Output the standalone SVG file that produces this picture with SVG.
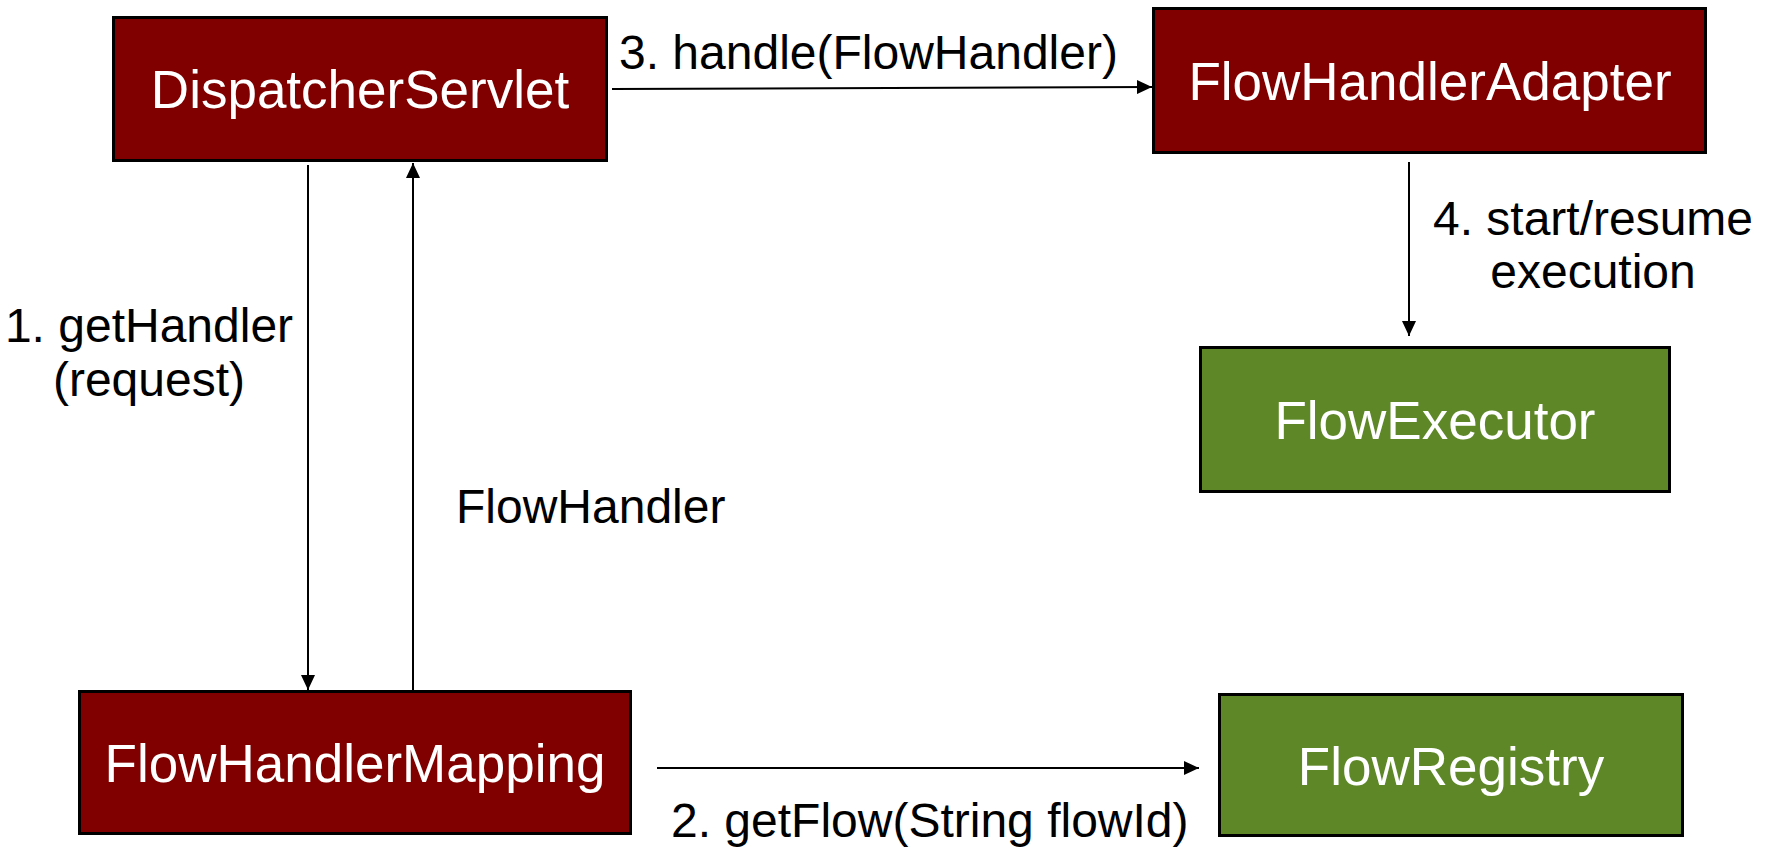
<svg xmlns="http://www.w3.org/2000/svg" width="1767" height="850" viewBox="0 0 1767 850">
<defs>
<style>
.red{fill:#800000;stroke:#000;stroke-width:3}
.green{fill:#5e8727;stroke:#000;stroke-width:3}
.nl{font-family:"Liberation Sans",Arial,sans-serif;font-size:53px;fill:#fff;text-anchor:middle}
.el{font-family:"Liberation Sans",Arial,sans-serif;font-size:48px;fill:#000}
.c{stroke:#000;stroke-width:2;fill:none;marker-end:url(#arr)}
</style>
<marker id="arr" markerUnits="userSpaceOnUse" markerWidth="15" markerHeight="14" refX="15" refY="7" orient="auto">
<path d="M0,0 L15,7 L0,14 Z" fill="#000"/>
</marker>
</defs>
<rect width="1767" height="850" fill="#fff"/>
<g id="connectors">
<path class="c" d="M308,165 L308,690"/>
<path class="c" d="M413,690 L413,163"/>
<path class="c" d="M612,89 L1152,87"/>
<path class="c" d="M1409,162 L1409,336"/>
<path class="c" d="M657,768 L1199,768"/>
<text class="el" x="149" y="342" text-anchor="middle">1. getHandler</text>
<text class="el" x="149" y="396" text-anchor="middle">(request)</text>
<text class="el" x="456" y="523">FlowHandler</text>
<text class="el" x="619" y="69">3. handle(FlowHandler)</text>
<text class="el" x="1593" y="235" text-anchor="middle">4. start/resume</text>
<text class="el" x="1593" y="288" text-anchor="middle">execution</text>
<text class="el" x="671" y="837">2. getFlow(String flowId)</text>
</g>
<g id="DispatcherServlet">
<rect class="red" x="113.5" y="17.5" width="493" height="143"/>
<text class="nl" x="360" y="108">DispatcherServlet</text>
</g>
<g id="FlowHandlerAdapter">
<rect class="red" x="1153.5" y="8.5" width="552" height="144"/>
<text class="nl" x="1430" y="100">FlowHandlerAdapter</text>
</g>
<g id="FlowExecutor">
<rect class="green" x="1200.5" y="347.5" width="469" height="144"/>
<text class="nl" x="1435" y="439">FlowExecutor</text>
</g>
<g id="FlowHandlerMapping">
<rect class="red" x="79.5" y="691.5" width="551" height="142"/>
<text class="nl" x="355" y="782">FlowHandlerMapping</text>
</g>
<g id="FlowRegistry">
<rect class="green" x="1219.5" y="694.5" width="463" height="141"/>
<text class="nl" x="1451" y="785">FlowRegistry</text>
</g>
</svg>
